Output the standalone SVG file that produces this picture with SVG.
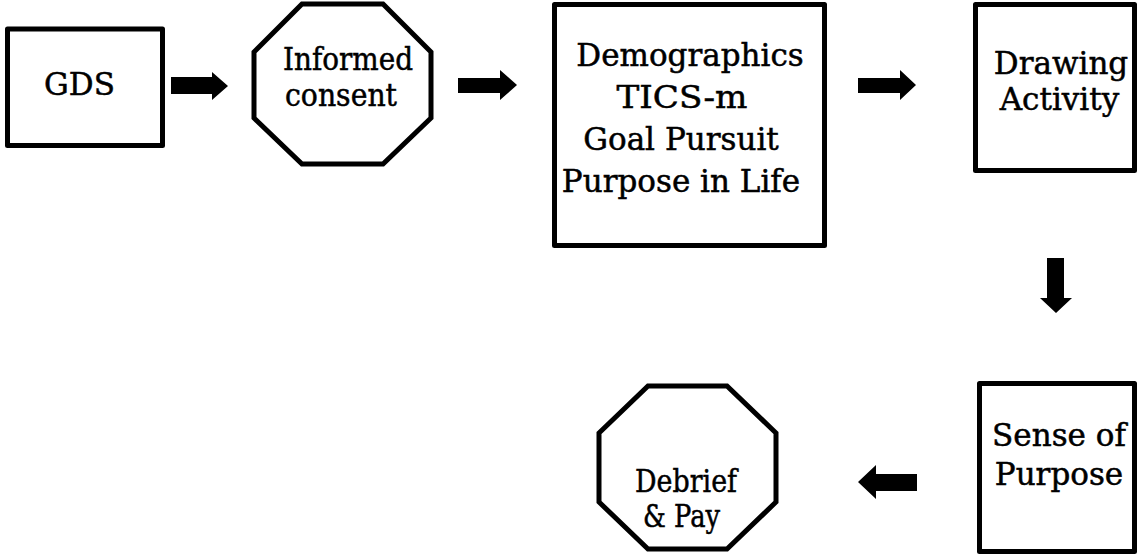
<svg xmlns="http://www.w3.org/2000/svg" width="1139" height="554" viewBox="0 0 1139 554">
<style>
.box{fill:#fff;stroke:#000;stroke-width:5;stroke-linejoin:round}
.oct{fill:#fff;stroke:#000;stroke-width:5;stroke-linejoin:miter}
.lbl{font-family:"DejaVu Serif","Liberation Serif",serif;font-size:31px;fill:#000;stroke:#000;stroke-width:0.5;text-anchor:middle}
.arr{fill:#000}
</style>
<rect width="1139" height="554" fill="#fff"/>
<g id="connectors">
<polygon class="arr" points="171,77 212,77 212,72 228,86 212,100 212,94 171,94"/>
<polygon class="arr" points="458,78 500,78 500,70 517,85 500,100 500,93 458,93"/>
<polygon class="arr" points="858,78 900,78 900,70 916,85 900,100 900,93 858,93"/>
<polygon class="arr" points="1047,258 1064,258 1064,298 1072,298 1056,313 1040,298 1047,298"/>
<polygon class="arr" points="917,474 876,474 876,465 858,482 876,499 876,491 917,491"/>
</g>
<g id="gds">
<rect class="box" x="7.5" y="29" width="155" height="116.5"/>
<text class="lbl" x="79.5" y="95">GDS</text>
</g>
<g id="consent">
<polygon class="oct" points="302,4 383,4 431,52 431,118 383,164 302,164 254,118 254,52"/>
<text class="lbl" x="348" y="70" textLength="130" lengthAdjust="spacingAndGlyphs">Informed</text>
<text class="lbl" x="341" y="106" textLength="112" lengthAdjust="spacingAndGlyphs">consent</text>
</g>
<g id="measures">
<rect class="box" x="554.5" y="4.5" width="270" height="241"/>
<text class="lbl" x="690" y="66">Demographics</text>
<text class="lbl" x="682" y="108" textLength="131" lengthAdjust="spacingAndGlyphs">TICS-m</text>
<text class="lbl" x="681" y="150">Goal Pursuit</text>
<text class="lbl" x="681" y="192">Purpose in Life</text>
</g>
<g id="drawing">
<rect class="box" x="975.5" y="4.5" width="159" height="166"/>
<text class="lbl" x="1061" y="74">Drawing</text>
<text class="lbl" x="1059.5" y="110">Activity</text>
</g>
<g id="sense">
<rect class="box" x="979.5" y="383.5" width="155" height="168"/>
<text class="lbl" x="1059" y="446">Sense of</text>
<text class="lbl" x="1059" y="485">Purpose</text>
</g>
<g id="debrief">
<polygon class="oct" points="648,386 727,386 776,433 776,502 727,549 648,549 599,502 599,433"/>
<text class="lbl" x="686" y="492" textLength="102" lengthAdjust="spacingAndGlyphs">Debrief</text>
<text class="lbl" x="681.5" y="527" textLength="77" lengthAdjust="spacingAndGlyphs">&amp; Pay</text>
</g>
</svg>
